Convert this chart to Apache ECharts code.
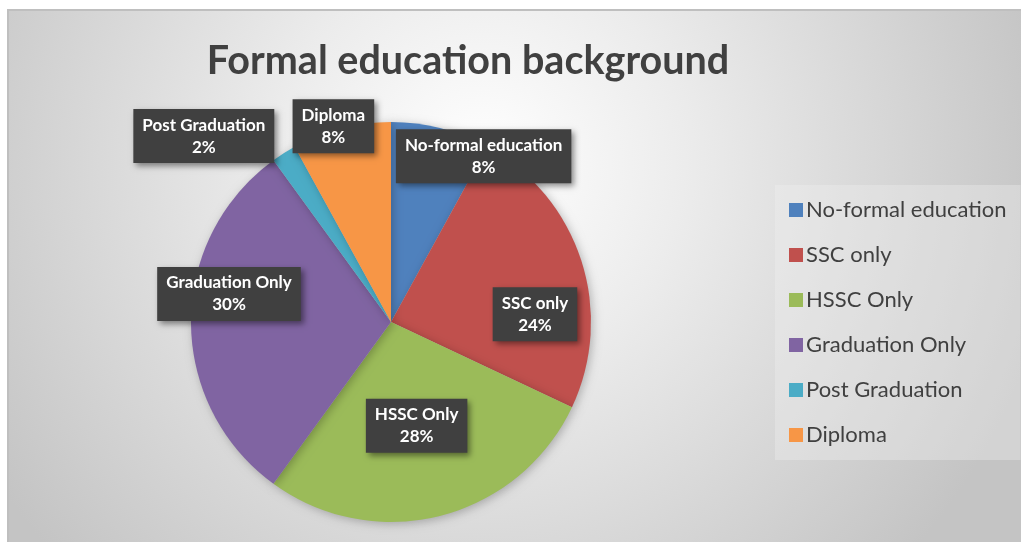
<!DOCTYPE html>
<html>
<head>
<meta charset="utf-8">
<script src="https://cdn.jsdelivr.net/npm/echarts@6/dist/echarts.min.js"></script>
<style>
html,body{margin:0;padding:0;background:#fff;}
#chart{width:1021px;height:542px;}
</style>
</head>
<body>
<div id="chart"></div>
<script>
const categories = ['No-formal education','SSC only','HSSC Only','Graduation Only','Post Graduation','Diploma'];
const values = [8, 24, 28, 30, 2, 8];
const colors = ['#4f81bd','#c0504d','#9bbb59','#8064a2','#4bacc6','#f79646'];
// label nudges from the default inside position
const labelDx = [67, 46, 0, -59, -132, -32];
const labelDy = [-66, 24, 4, -28, -99, -96];

const chart = echarts.init(document.getElementById('chart'));
chart.setOption({
  animation: false,
  color: colors,
  title: {
    text: 'Formal education background',
    left: 463, top: 36, textAlign: 'center',
    textStyle: {fontFamily: 'Lato', fontWeight: 'bold', fontSize: 39.5, color: '#404040'}
  },
  graphic: [{
    type: 'rect', z: -10, silent: true,
    shape: {x: 8, y: 10, width: 1030, height: 550},
    style: {
      fill: new echarts.graphic.RadialGradient(0.46, 0.28, 1.05, [
        {offset: 0, color: '#ffffff'},
        {offset: 0.35, color: '#ececec'},
        {offset: 1, color: '#c4c4c4'}
      ]),
      stroke: '#bfbfbf', lineWidth: 2
    }
  }],
  legend: {
    orient: 'vertical',
    left: 775, top: 185,
    padding: [12, 14, 12, 14],
    backgroundColor: 'rgba(240,240,240,0.35)',
    itemWidth: 14, itemHeight: 14, itemGap: 19,
    icon: 'rect',
    data: categories,
    textStyle: {fontFamily: 'Lato', fontSize: 22, color: '#404040', lineHeight: 26, padding: [0,0,0,-2]}
  },
  series: [{
    type: 'pie',
    center: [391, 322],
    radius: 200,
    startAngle: 90,
    clockwise: true,
    data: categories.map((c, i) => ({name: c, value: values[i]})),
    itemStyle: {shadowBlur: 10, shadowColor: 'rgba(0,0,0,0.25)', shadowOffsetX: 2, shadowOffsetY: 2},
    label: {
      show: true, position: 'inside',
      formatter: p => p.name + '\n' + Math.round(p.percent) + '%',
      fontFamily: 'Lato', fontWeight: 'bold', fontSize: 17, color: '#ffffff', lineHeight: 22,
      backgroundColor: '#404040', padding: [5, 9, 5, 9], align: 'center',
      shadowColor: 'rgba(0,0,0,0.45)', shadowBlur: 6, shadowOffsetX: 3, shadowOffsetY: 3
    },
    labelLine: {show: false},
    labelLayout: p => ({dx: labelDx[p.dataIndex], dy: labelDy[p.dataIndex]}),
    emphasis: {disabled: true}
  }]
});
</script>
</body>
</html>
